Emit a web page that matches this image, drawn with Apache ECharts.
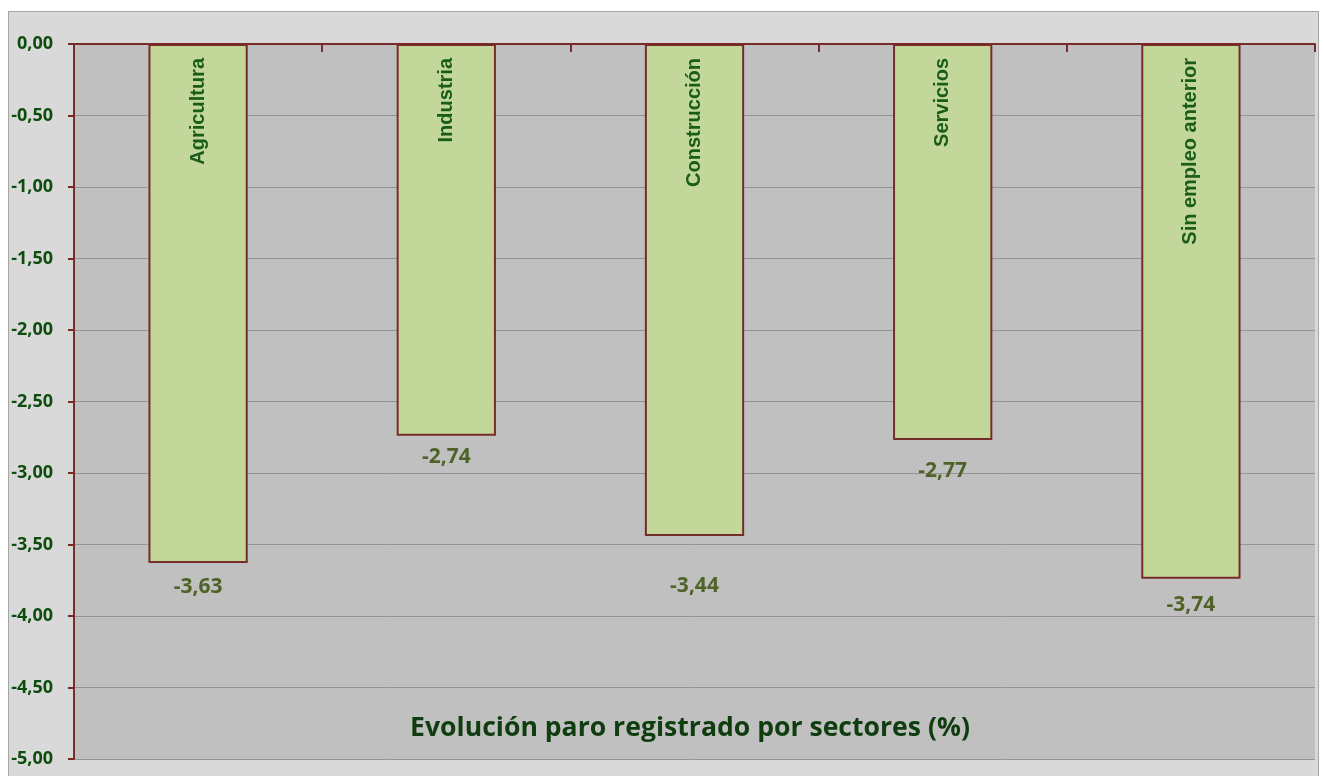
<!DOCTYPE html>
<html>
<head>
<meta charset="utf-8">
<script src="https://cdn.jsdelivr.net/npm/echarts@6/dist/echarts.min.js"></script>
<style>
  body { margin: 0; background: #ffffff; }
  .marco {
    position: absolute; left: 8px; top: 11px; width: 1311px; height: 800px;
    background: #d9d9d9; border: 1px solid #a6a6a6; box-sizing: border-box;
  }
  #main { position: absolute; left: 0; top: 0; width: 1324px; height: 776px; }
</style>
</head>
<body>
<div class="marco"></div>
<div id="main"></div>
<script>
// datos del grafico
var sectores = ['Agricultura', 'Industria', 'Construcción', 'Servicios', 'Sin empleo anterior']
var variacion = [-3.63, -2.74, -3.44, -2.77, -3.74]
var ticksY = [0, -0.5, -1, -1.5, -2, -2.5, -3, -3.5, -4, -4.5, -5]
var titulo = 'Evolución paro registrado por sectores (%)'

// separacion de las etiquetas de valor (movidas a mano en el original)
var sepEtiqueta = [13, 11, 40, 20, 16]

function coma(v) {
  return v.toFixed(2).replace('.', ',')
}

var granate = '#772c2a'

var myChart = echarts.init(document.getElementById('main'))
myChart.setOption({
  backgroundColor: 'transparent',
  animation: false,
  title: {
    text: titulo,
    left: 685,
    top: 710,
    textAlign: 'center',
    textStyle: {
      fontFamily: 'Open Sans',
      fontWeight: 'bold',
      fontSize: 26.6,
      color: '#0f3d0f'
    }
  },
  grid: {
    left: 74,
    right: 9,
    top: 44,
    bottom: 17,
    show: true,
    backgroundColor: '#c0c0c0',
    borderWidth: 0
  },
  xAxis: {
    type: 'category',
    data: sectores,
    position: 'top',
    axisLine: { lineStyle: { color: granate, width: 2 } },
    axisTick: { show: true, inside: true, length: 8, lineStyle: { color: granate, width: 2 } },
    axisLabel: { show: false },
    splitLine: { show: false }
  },
  yAxis: {
    type: 'value',
    min: -5,
    max: 0,
    interval: 0.5,
    axisLine: { show: true, lineStyle: { color: granate, width: 2 } },
    axisTick: { show: true, length: 6, lineStyle: { color: granate, width: 2 } },
    axisLabel: {
      formatter: function (v) { return ticksY.indexOf(v) >= 0 ? coma(v) : '' },
      color: '#0d4d0d',
      fontFamily: 'Open Sans',
      fontWeight: 'bold',
      fontSize: 18,
      margin: 21
    },
    splitLine: { show: true, lineStyle: { color: '#949494', width: 1 } }
  },
  series: [
    {
      // barras con el nombre del sector dentro
      type: 'bar',
      data: variacion,
      barWidth: '40%',
      itemStyle: { color: '#c4d79b', borderColor: granate, borderWidth: 2 },
      label: {
        show: true,
        position: 'insideTop',
        distance: 14,
        rotate: 90,
        align: 'right',
        verticalAlign: 'middle',
        formatter: function (p) { return sectores[p.dataIndex] },
        color: '#1a5c1a',
        fontFamily: 'Liberation Sans',
        fontWeight: 'bold',
        fontSize: 20
      }
    },
    {
      // etiquetas de valor bajo cada barra
      type: 'bar',
      barGap: '-100%',
      barWidth: '40%',
      silent: true,
      data: variacion.map(function (v, i) {
        return { value: v, label: { distance: sepEtiqueta[i] } }
      }),
      itemStyle: { color: 'transparent' },
      label: {
        show: true,
        position: 'bottom',
        formatter: function (p) { return coma(p.value) },
        color: '#4f6228',
        fontFamily: 'Open Sans',
        fontWeight: 'bold',
        fontSize: 21
      }
    }
  ]
})
</script>
</body>
</html>
